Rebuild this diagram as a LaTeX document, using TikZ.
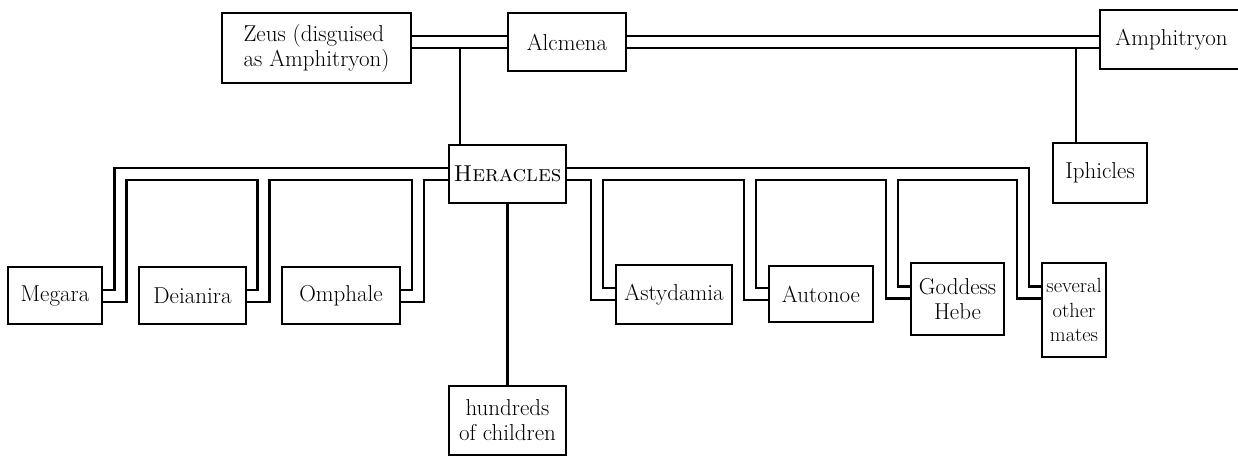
\documentclass[tikz,border=0pt]{standalone}
\usepackage{fontspec}
\pgfdeclarelayer{bg}
\pgfsetlayers{bg,main}
\begin{document}
\begin{tikzpicture}[x=1pt,y=-1pt,
  person/.style={draw, line width=2.4pt, fill=white, inner sep=0pt,
    font=\fontsize{23}{25}\selectfont, align=center},
  descent/.style={line width=2.4pt}]
\useasboundingbox (0,0) rectangle (1238,456);
\clip (0,0) rectangle (1238,456);

% parents' generation
\node[person, align=left, minimum width=189pt, minimum height=70pt] (Zeus) at (316.5,48) {Zeus (disguised\\as Amphitryon)};
\node[person, minimum width=118pt, minimum height=58pt] (Alcmena) at (567,42) {Alcmena};
\node[person, minimum width=143pt, minimum height=59pt] (Amphitryon) at (1171.5,39.5) {Amphitryon};

% sons
\node[person, minimum width=117pt, minimum height=58pt] (Heracles) at (507.5,174) {\textsc{Heracles}};
\node[person, minimum width=94pt, minimum height=60pt] (Iphicles) at (1100,173) {Iphicles};
\node[person, minimum width=117pt, minimum height=69pt] (Children) at (507.5,420.5) {hundreds\\of children};

% mates of Heracles
\node[person, minimum width=94pt, minimum height=57pt] (Megara) at (55,295.5) {Megara};
\node[person, minimum width=107pt, minimum height=57pt] (Deianira) at (192.5,295.5) {Deianira};
\node[person, minimum width=118pt, minimum height=57pt] (Omphale) at (341,295.5) {Omphale};
\node[person, minimum width=116pt, minimum height=59pt] (Astydamia) at (674,294.5) {Astydamia};
\node[person, minimum width=104pt, minimum height=56pt] (Autonoe) at (821,294) {Autonoe};
\node[person, minimum width=93pt, minimum height=72pt] (Hebe) at (957.5,299) {Goddess\\Hebe};
\node[person, font=\fontsize{20.5}{24.5}\selectfont, minimum width=64pt, minimum height=94pt] (Mates) at (1074,310) {several\\other\\mates};

% bends of the marriage lines
\coordinate (bMg) at (120.5,296);
\coordinate (bDj) at (263.5,296);
\coordinate (bOm) at (418,296);
\coordinate (bAs) at (597,294);
\coordinate (bAu) at (750,294);
\coordinate (bHb) at (892,292.5);
\coordinate (bSv) at (1023,292.5);
% where the sons hang from their parents' lines
\coordinate (zu) at (460,48);
\coordinate (au) at (1076,47);

\begin{pgfonlayer}{bg}
  % marriage lines: a black stroke, then a white core, so that branches merge
  \foreach \w/\c in {14.4pt/black, 9.6pt/white} {
    \draw[line width=\w, draw=\c, line join=miter]
      (Zeus.east |- Alcmena.west) -- (Alcmena.west)
      (Alcmena.east) -- (Alcmena.east -| Amphitryon.west)
      (Heracles.west) -| (bMg) -- (bMg -| Megara.east)
      (Heracles.west) -| (bDj) -- (bDj -| Deianira.east)
      (Heracles.west) -| (bOm) -- (bOm -| Omphale.east)
      (Heracles.east) -| (bAs) -- (bAs -| Astydamia.west)
      (Heracles.east) -| (bAu) -- (bAu -| Autonoe.west)
      (Heracles.east) -| (bHb) -- (bHb -| Hebe.west)
      (Heracles.east) -| (bSv) -- (bSv -| Mates.west);
  }
  % lines of descent
  \draw[descent] (zu) -- (zu |- Heracles.north);
  \draw[descent] (au) -- (au |- Iphicles.north);
  \draw[descent] (Heracles.south) -- (Children.north);
\end{pgfonlayer}
\end{tikzpicture}
\end{document}
